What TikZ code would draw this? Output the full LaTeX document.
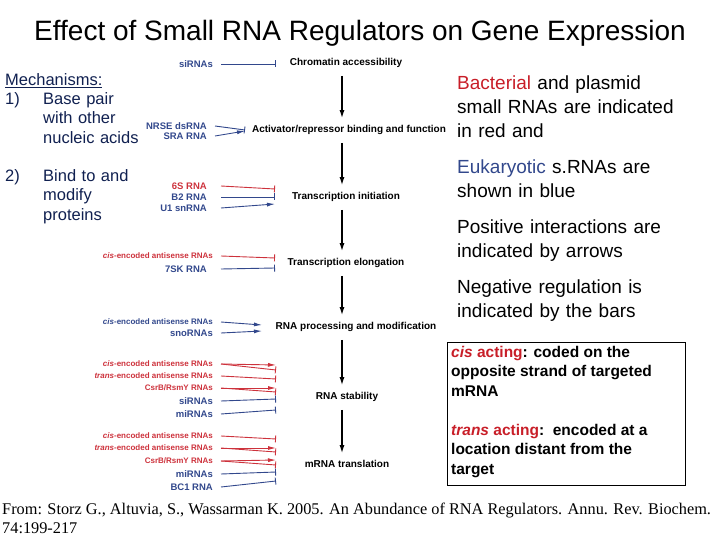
\documentclass[tikz,border=0pt]{standalone}
\usepackage{fontspec}
\setmainfont{Liberation Sans}
\newfontfamily\serifft{Liberation Serif}
\usetikzlibrary{arrows.meta,calc}
\definecolor{rblue}{RGB}{50,72,140}
\definecolor{rred}{RGB}{205,50,60}
\definecolor{navy}{RGB}{16,32,80}
\definecolor{tred}{RGB}{200,30,40}
\begin{document}
\begin{tikzpicture}[x=1pt,y=-1pt,
  lab/.style={font=\bfseries\fontsize{9.5}{10}\selectfont,anchor=east,inner sep=0pt},
  lablong/.style={font=\bfseries\fontsize{8}{9}\selectfont,anchor=east,inner sep=0pt},
  stage/.style={font=\bfseries\fontsize{10}{11}\selectfont,inner sep=1pt},
  flow/.style={-{Latex[length=8pt,width=5pt]},line width=1.3pt,black},
  posreg/.style={-{Latex[length=8pt,width=4pt]},line width=0.9pt},
  negreg/.style={-{Bar[width=7pt]},line width=0.9pt},
  side/.style={font=\fontsize{19}{24}\selectfont,anchor=north west,align=left,inner sep=0pt,text width=260pt},
  mech/.style={font=\fontsize{16.5}{19.5}\selectfont,anchor=north west,align=left,inner sep=0pt,text=navy}]
\useasboundingbox (0,0) rectangle (720,540);
\node[font=\fontsize{28}{30}\selectfont,inner sep=0pt] (title) at (360,33) {Effect of Small RNA Regulators on Gene Expression};
% stages
\node[stage] (s1) at (346,63) {Chromatin accessibility};
\node[stage] (s2) at (349,130) {Activator/repressor binding and function};
\node[stage] (s3) at (346,197) {Transcription initiation};
\node[stage] (s4) at (346,263) {Transcription elongation};
\node[stage] (s5) at (356,327) {RNA processing and modification};
\node[stage] (s6) at (347,397) {RNA stability};
\node[stage] (s7) at (347,464) {mRNA translation};
\foreach \a/\b in {s1/s2,s2/s3,s3/s4,s4/s5,s5/s6,s6/s7}
  \draw[flow] ($(\a.south -| 342,0)+(0,7)$) -- ($(\b.north -| 342,0)+(0,-6)$);
% labels
\node[lab,text=rblue] (l1) at (213,64) {siRNAs};
\node[lab,text=rblue] (l2a) at (207,126) {NRSE dsRNA};
\node[lab,text=rblue] (l2b) at (207,136) {SRA RNA};
\node[lab,text=rred] (l3a) at (207,186) {6S RNA};
\node[lab,text=rblue] (l3b) at (207,197) {B2 RNA};
\node[lab,text=rblue] (l3c) at (207,208) {U1 snRNA};
\node[lablong,text=rred] (l4a) at (213,256) {\textit{cis}-encoded antisense RNAs};
\node[lab,text=rblue] (l4b) at (207,269) {7SK RNA};
\node[lablong,text=rblue] (l5a) at (213,322) {\textit{cis}-encoded antisense RNAs};
\node[lab,text=rblue] (l5b) at (213,333) {snoRNAs};
\node[lablong,text=rred] (l6a) at (213,364) {\textit{cis}-encoded antisense RNAs};
\node[lablong,text=rred] (l6b) at (213,376) {\textit{trans}-encoded antisense RNAs};
\node[lablong,text=rred] (l6c) at (213,388) {CsrB/RsmY RNAs};
\node[lab,text=rblue] (l6d) at (213,401) {siRNAs};
\node[lab,text=rblue] (l6e) at (213,414) {miRNAs};
\node[lablong,text=rred] (l7a) at (213,436) {\textit{cis}-encoded antisense RNAs};
\node[lablong,text=rred] (l7b) at (213,448) {\textit{trans}-encoded antisense RNAs};
\node[lablong,text=rred] (l7c) at (213,461) {CsrB/RsmY RNAs};
\node[lab,text=rblue] (l7d) at (213,474) {miRNAs};
\node[lab,text=rblue] (l7e) at (213,487) {BC1 RNA};
% connectors
\draw[negreg,rblue] ($(l1.east)+(8,0)$) -- (276,64);
\draw[negreg,rblue] ($(l2a.east)+(8,0)$) -- (245,130);
\draw[posreg,rblue] ($(l2b.east)+(8,0)$) -- (245,131);
\draw[negreg,rred] ($(l3a.east)+(14,0)$) -- (275,189);
\draw[negreg,rblue] ($(l3b.east)+(14,0)$) -- (275,197);
\draw[posreg,rblue] ($(l3c.east)+(14,0)$) -- (275,204);
\draw[negreg,rred] ($(l4a.east)+(8,0)$) -- (275,258);
\draw[negreg,rblue] ($(l4b.east)+(14,0)$) -- (275,268);
\draw[posreg,rblue] ($(l5a.east)+(8,0)$) -- (262,325);
\draw[posreg,rblue] ($(l5b.east)+(8,0)$) -- (262,331);
% stability
\draw[posreg,rred] ($(l6a.east)+(8,0)$) -- (276,365);
\draw[negreg,rred] ($(l6a.east)+(8,0)$) -- (276,370);
\draw[negreg,rred] ($(l6b.east)+(8,0)$) -- (276,379);
\draw[posreg,rred] ($(l6c.east)+(8,0)$) -- (276,388);
\draw[negreg,rred] ($(l6c.east)+(8,0)$) -- (276,392);
\draw[negreg,rblue] ($(l6d.east)+(8,0)$) -- (276,399);
\draw[negreg,rblue] ($(l6e.east)+(8,0)$) -- (276,410);
% translation
\draw[negreg,rred] ($(l7a.east)+(8,0)$) -- (276,439);
\draw[posreg,rred] ($(l7b.east)+(8,0)$) -- (276,448);
\draw[negreg,rred] ($(l7b.east)+(8,0)$) -- (276,452);
\draw[posreg,rred] ($(l7c.east)+(8,0)$) -- (276,460);
\draw[negreg,rred] ($(l7c.east)+(8,0)$) -- (276,465);
\draw[negreg,rblue] ($(l7d.east)+(8,0)$) -- (276,472);
\draw[negreg,rblue] ($(l7e.east)+(8,0)$) -- (276,481);
% left mechanisms
\node[mech] (m0) at (5,73) {\underline{Mechanisms:}};
\node[mech] (m1) at (5,92) {1)};
\node[mech,text width=110pt] (m1t) at (43,92) {Base pair\\with other\\nucleic acids};
\node[mech] (m2) at (5,169) {2)};
\node[mech,text width=100pt] (m2t) at (43,169) {Bind to and\\modify\\proteins};
% right side text
\node[side] (r1) at (457,76) {\textcolor{tred}{Bacterial} and plasmid\\small RNAs are indicated\\in red and};
\node[side] (r2) at (457,160) {\textcolor{rblue}{Eukaryotic} s.RNAs are\\shown in blue};
\node[side] (r3) at (457,220) {Positive interactions are\\indicated by arrows};
\node[side] (r4) at (457,280) {Negative regulation is\\indicated by the bars};
\node[draw,line width=0.8pt,anchor=north west,minimum width=238pt,minimum height=143pt,inner sep=0pt] (box) at (447,342) {};
\node[anchor=north west,align=left,inner sep=0pt,font=\bfseries\fontsize{15.5}{19.5}\selectfont] (bt) at (451,346)
 {\textcolor{tred}{\textit{cis} acting}: coded on the\\opposite strand of targeted\\mRNA\\[19.5pt]\textcolor{tred}{\textit{trans} acting}:\ \ encoded at a\\location distant from the\\target};
\node[anchor=north west,align=left,inner sep=0pt,font=\serifft\fontsize{16.3}{19}\selectfont] (foot) at (2,503)
 {From: Storz G., Altuvia, S., Wassarman K. 2005. An Abundance of RNA Regulators. Annu. Rev. Biochem.\\74:199-217};
\end{tikzpicture}
\end{document}
